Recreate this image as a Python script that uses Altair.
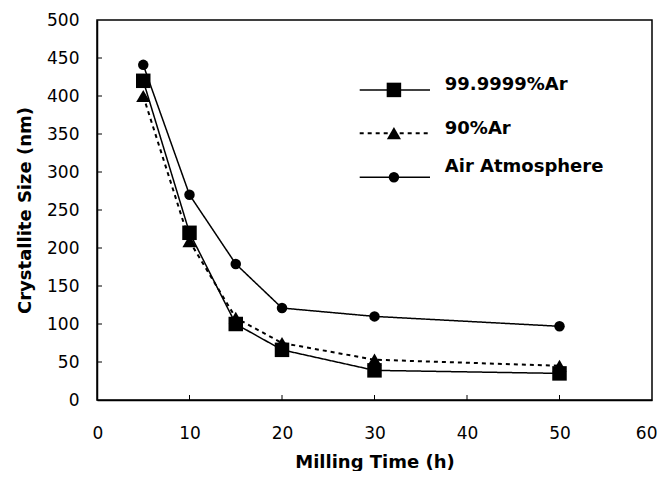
import altair as alt
import pandas as pd

# Data
time_h = [5, 10, 15, 20, 30, 50]
ar_99 = [420, 220, 100, 66, 39, 35]
ar_90 = [400, 209, 108, 75, 53, 45]
air = [441, 270, 179, 121, 110, 97]
series_names = ["99.9999%Ar", "90%Ar", "Air Atmosphere"]
series_values = [ar_99, ar_90, air]
shapes = ["square", "triangle-up", "circle"]
marker_sizes = [210, 200, 110]
dash_styles = [[1, 0], [4, 4], [1, 0]]

x_ticks = [0, 10, 20, 30, 40, 50, 60]
y_ticks = [0, 50, 100, 150, 200, 250, 300, 350, 400, 450, 500]

# legend placement (in data units)
legend_x0, legend_x1, legend_sym_x, legend_text_x = 28.4, 36.0, 32.1, 37.6
legend_rows = [408, 351, 293]
legend_text_rows = [414, 356, 306]

FONT = "DejaVu Sans"

xscale = alt.Scale(domain=[0, 60], nice=False)
yscale = alt.Scale(domain=[0, 500], nice=False)
xaxis = alt.Axis(values=x_ticks, format="d", labelOverlap=False, labelFlush=True,
                 labelFlushOffset=5)
yaxis = alt.Axis(values=y_ticks, format="d", labelOverlap=False, labelFlush=False)


def X(field="t:Q"):
    return alt.X(field, scale=xscale, title="Milling Time (h)", axis=xaxis)


def Y(field="v:Q"):
    return alt.Y(field, scale=yscale, title="Crystallite Size (nm)", axis=yaxis)


layers = []
for name, vals, shp, sz, dash in zip(series_names, series_values, shapes, marker_sizes, dash_styles):
    df = pd.DataFrame({"t": time_h, "v": vals})
    sw = 2 if dash != [1, 0] else 1.5
    layers.append(alt.Chart(df).mark_line(color="black", strokeWidth=sw,
                                          strokeDash=dash).encode(x=X(), y=Y()))
    layers.append(alt.Chart(df).mark_point(shape=shp, size=sz, filled=True, color="black",
                                           opacity=1).encode(x=X(), y=Y()))

# Legend, drawn manually
for name, shp, sz, dash, yv, ty in zip(series_names, shapes, marker_sizes, dash_styles,
                                       legend_rows, legend_text_rows):
    sw = 2 if dash != [1, 0] else 1.5
    ldf = pd.DataFrame({"t": [legend_x0, legend_x1], "v": [yv, yv]})
    layers.append(alt.Chart(ldf).mark_line(color="black", strokeWidth=sw,
                                           strokeDash=dash).encode(x=X(), y=Y()))
    sdf = pd.DataFrame({"t": [legend_sym_x], "v": [yv]})
    layers.append(alt.Chart(sdf).mark_point(shape=shp, size=sz, filled=True, color="black",
                                            opacity=1).encode(x=X(), y=Y()))
    tdf = pd.DataFrame({"t": [legend_text_x], "v": [ty], "label": [name]})
    layers.append(alt.Chart(tdf).mark_text(align="left", baseline="middle", fontSize=18,
                                           fontWeight="bold", font=FONT,
                                           color="black").encode(
        x=X(), y=Y(), text="label:N"))

# inward ticks
ytk = pd.DataFrame({"v": y_ticks[1:-1]})
layers.append(alt.Chart(ytk).mark_rule(color="black", strokeWidth=1).encode(
    y=Y(), x=alt.value(0), x2=alt.value(5)))
xtk = pd.DataFrame({"t": x_ticks[1:-1]})
layers.append(alt.Chart(xtk).mark_rule(color="black", strokeWidth=1).encode(
    x=X(), y=alt.value(380), y2=alt.value(375)))

chart = alt.layer(*layers).properties(
    width=555, height=380,
    autosize=alt.AutoSizeParams(type="none"),
    padding={"left": 89, "top": 12, "right": 5, "bottom": 71},
).configure_view(
    stroke="black", strokeWidth=1.5
).configure_axis(
    grid=False, ticks=False, domainColor="black", domainWidth=1.5,
    labelFont=FONT, labelFontSize=17, labelColor="black",
    titleFont=FONT, titleFontSize=18, titleFontWeight="bold", titleColor="black",
).configure_axisX(
    labelPadding=25, titlePadding=12
).configure_axisY(
    labelPadding=18, titlePadding=12
)

chart.save("out.html", embed_options={"renderer": "svg", "actions": False})
